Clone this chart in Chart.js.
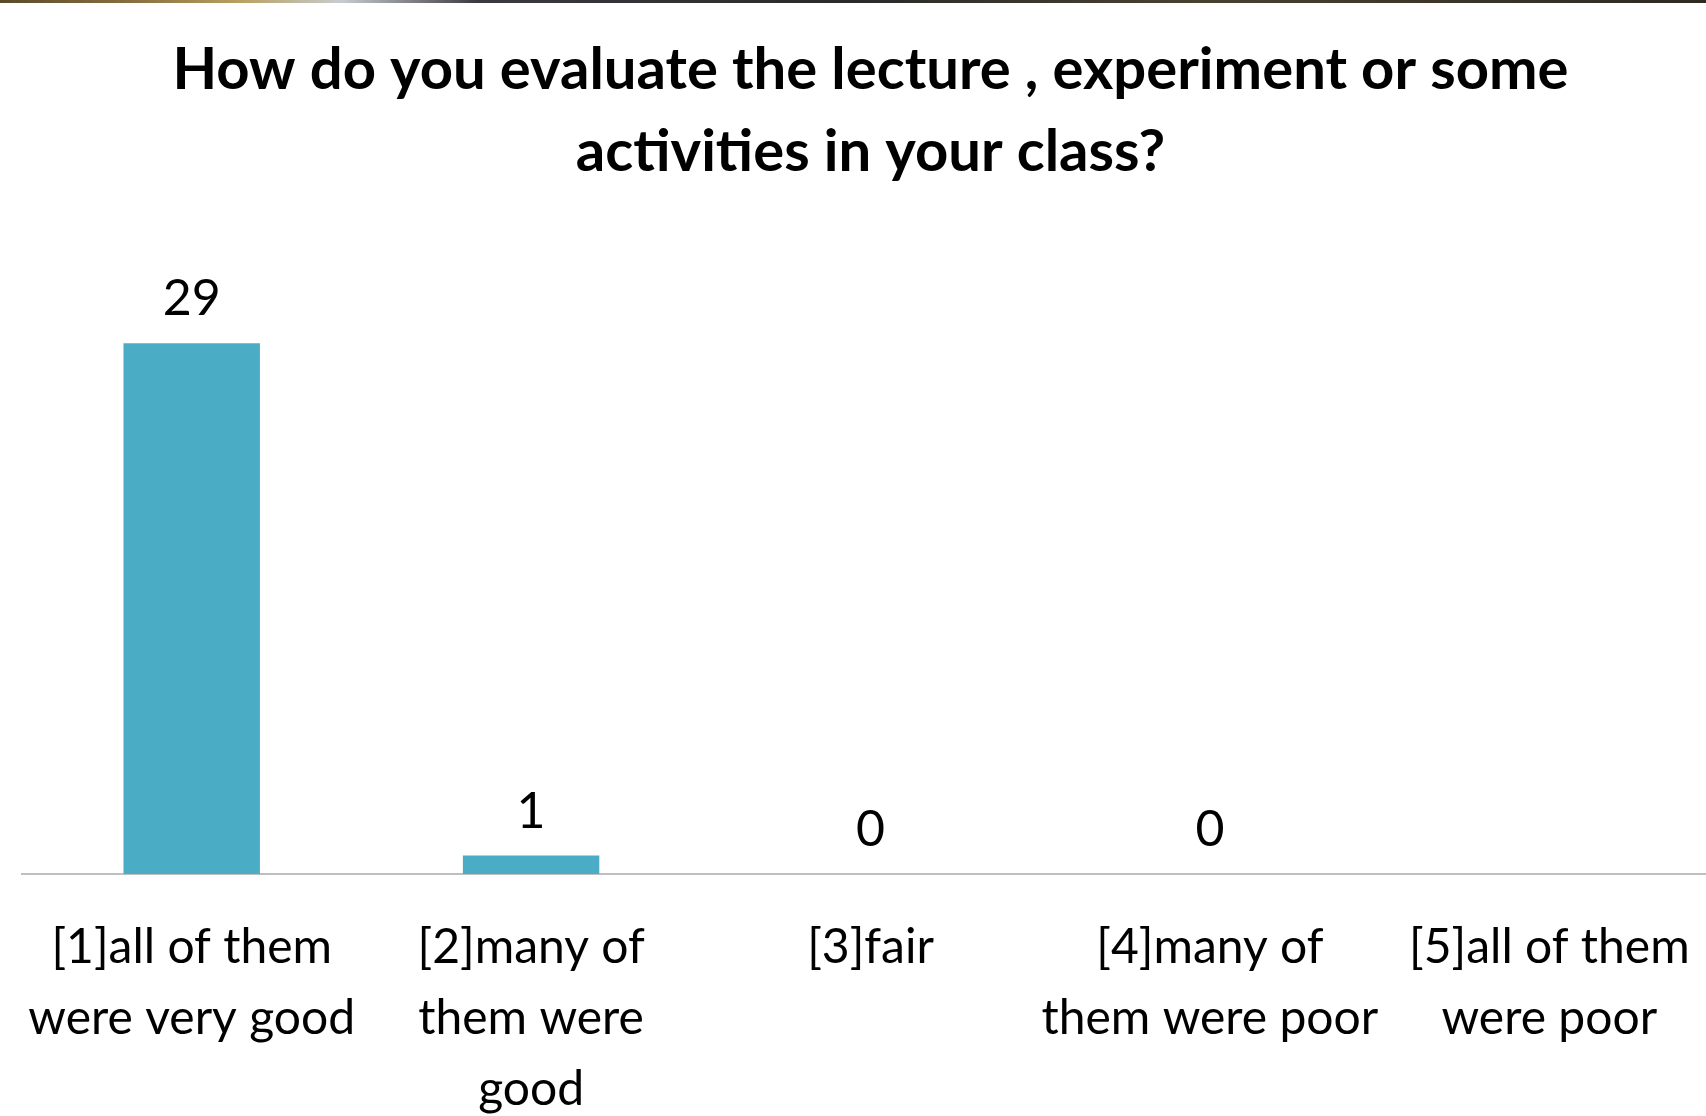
<!DOCTYPE html>
<html lang="en">
<head>
    <meta charset="UTF-8">
    <title>How do you evaluate the lecture</title>
    <style>
        html, body {
            margin: 0;
            padding: 0;
            background: #fff;
            overflow: hidden;
        }
        .strip {
            position: absolute;
            left: 0;
            top: 0;
            width: 1706px;
            height: 3px;
            background: linear-gradient(90deg, #5a4a2a 0%, #8a7040 8%, #b8a060 14%, #c8ccd0 20%, #3a3a40 28%, #2a2a2a 50%, #4a4030 70%, #2e2a22 100%);
            z-index: 2;
        }
        #chart-container {
            position: absolute;
            left: 0;
            top: 0;
            width: 1725px;
            height: 1129px;
        }
    </style>
    <script src="https://cdn.jsdelivr.net/npm/chart.js"></script>
</head>
<body>
    <div class="strip"></div>
    <div id="chart-container">
        <canvas id="evalChart"></canvas>
    </div>

    <script>
        // 数据
        const chartTitle = ['How do you evaluate the lecture , experiment or some', 'activities in your class?'];
        const categories = [
            ['[1]all of them', 'were very good'],
            ['[2]many of', 'them were', 'good'],
            ['[3]fair'],
            ['[4]many of', 'them were poor'],
            ['[5]all of them', 'were poor']
        ];
        const counts = [29, 1, 0, 0, null];

        const fontFamily = 'Lato, "Open Sans", sans-serif';

        // 柱顶数值标签
        const valueLabels = {
            id: 'valueLabels',
            afterDatasetsDraw(chart) {
                const ctx = chart.ctx;
                const meta = chart.getDatasetMeta(0);
                ctx.save();
                ctx.font = '50px ' + fontFamily;
                ctx.fillStyle = '#000';
                ctx.textAlign = 'center';
                ctx.textBaseline = 'alphabetic';
                meta.data.forEach((bar, i) => {
                    const v = counts[i];
                    if (v === null || v === undefined) return;
                    ctx.fillText(String(v), bar.x, bar.y - 28);
                });
                ctx.restore();
            }
        };

        window.onload = function() {
            const ctx = document.getElementById('evalChart').getContext('2d');
            new Chart(ctx, {
                type: 'bar',
                data: {
                    labels: categories,
                    datasets: [{
                        data: counts,
                        backgroundColor: '#4bacc6',
                        borderWidth: 0,
                        categoryPercentage: 1,
                        barPercentage: 0.402
                    }]
                },
                options: {
                    responsive: true,
                    maintainAspectRatio: false,
                    animation: false,
                    layout: {
                        padding: { left: 22, right: 6, top: 0, bottom: 0 }
                    },
                    plugins: {
                        legend: { display: false },
                        tooltip: { enabled: false },
                        title: {
                            display: true,
                            text: chartTitle,
                            color: '#000',
                            font: { family: fontFamily, size: 58, weight: 'bold', lineHeight: 1.4 },
                            padding: { top: 30, bottom: 41 }
                        }
                    },
                    scales: {
                        x: {
                            // 透明刻度线只用来留出标签上方的空隙
                            grid: { display: true, drawOnChartArea: false, drawTicks: true, tickLength: 34, color: 'rgba(0,0,0,0)' },
                            border: { display: true, color: '#bfbfbf', width: 2 },
                            ticks: {
                                color: '#000',
                                font: { family: fontFamily, size: 48, lineHeight: 1.48 },
                                padding: 4,
                                maxRotation: 0,
                                autoSkip: false
                            }
                        },
                        y: {
                            display: false,
                            min: 0,
                            max: 35
                        }
                    }
                },
                plugins: [valueLabels]
            });
        };
    </script>
</body>
</html>
